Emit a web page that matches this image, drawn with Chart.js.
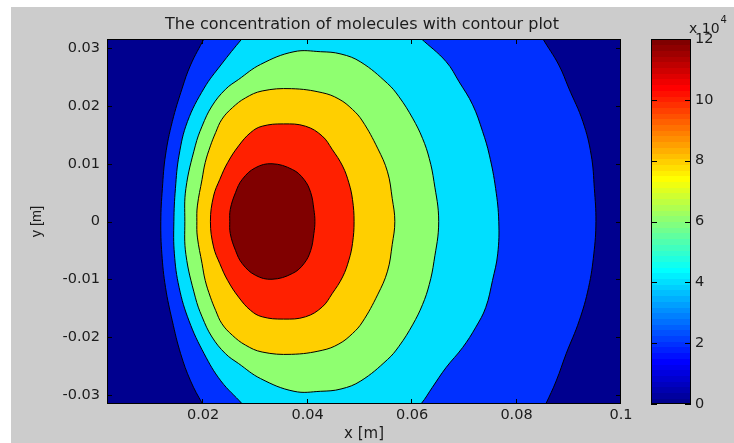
<!DOCTYPE html>
<html>
<head>
<meta charset="utf-8">
<style>
html,body{margin:0;padding:0;background:#fff;overflow:hidden}
#wrap{width:734px;height:443px;position:relative}
canvas{display:block}
</style>
<script src="https://cdn.jsdelivr.net/npm/chart.js@4.4.1/dist/chart.umd.min.js"></script>
</head>
<body>
<div id="wrap"><canvas id="c" width="734" height="443"></canvas></div>
<script>
// ---- data (concentration levels in units of 10^4) ----
const contourLevels = [2, 4, 6, 8, 10, 12];
const backgroundLevel = 0;
// closed contour lines (x [m], y [m])
const c2x = [0.0119,0.0122,0.0128,0.0141,0.0160,0.0176,0.0202,0.0216,0.0540,0.0835,0.0850,0.0881,0.0900,0.0927,0.0943,0.0949,0.0952,0.0948,0.0938,0.0920,0.0895,0.0876,0.0856,0.0841,0.0540,0.0218,0.0199,0.0176,0.0157,0.0141,0.0128,0.0121];
const c2y = [0,0.0057,0.0115,0.0173,0.0231,0.0271,0.0317,0.0342,0.0376,0.0342,0.0317,0.0271,0.0231,0.0173,0.0115,0.0057,0,-0.0056,-0.0114,-0.0172,-0.0229,-0.0276,-0.0316,-0.0343,-0.0378,-0.0343,-0.0316,-0.0276,-0.0229,-0.0172,-0.0114,-0.0056];
const c4x = [0.0144,0.0147,0.0154,0.0170,0.0202,0.0234,0.0275,0.0300,0.0444,0.0588,0.0617,0.0665,0.0690,0.0716,0.0735,0.0748,0.0760,0.0766,0.0764,0.0754,0.0741,0.0722,0.0697,0.0665,0.0639,0.0617,0.0588,0.0444,0.0300,0.0275,0.0234,0.0202,0.0173,0.0154,0.0145];
const c4y = [0,0.0057,0.0115,0.0173,0.0231,0.0271,0.0317,0.0342,0.0364,0.0342,0.0317,0.0277,0.0242,0.0202,0.0156,0.0115,0.0057,0,-0.0056,-0.0102,-0.0149,-0.0183,-0.0218,-0.0253,-0.0287,-0.0316,-0.0343,-0.0364,-0.0343,-0.0316,-0.0276,-0.0229,-0.0172,-0.0114,-0.0056];
const c6x = [0.0165,0.0167,0.0185,0.0198,0.0217,0.0243,0.0268,0.0310,0.0374,0.0425,0.0464,0.0502,0.0553,0.0575,0.0601,0.0620,0.0633,0.0642,0.0651,0.0642,0.0633,0.0620,0.0601,0.0575,0.0553,0.0502,0.0464,0.0425,0.0374,0.0310,0.0268,0.0243,0.0217,0.0198,0.0185,0.0167];
const c6y = [0,0.0057,0.0131,0.0165,0.0200,0.0229,0.0246,0.0272,0.0294,0.0294,0.0290,0.0276,0.0239,0.0216,0.0179,0.0144,0.0109,0.0069,0,-0.0069,-0.0109,-0.0144,-0.0179,-0.0216,-0.0239,-0.0276,-0.0290,-0.0294,-0.0294,-0.0272,-0.0246,-0.0229,-0.0200,-0.0165,-0.0131,-0.0057];
const c8x = [0.0188,0.0189,0.0198,0.0204,0.0214,0.0224,0.0236,0.0256,0.0281,0.0313,0.0369,0.0428,0.0460,0.0486,0.0505,0.0534,0.0553,0.0562,0.0567,0.0562,0.0553,0.0534,0.0505,0.0486,0.0460,0.0428,0.0369,0.0313,0.0281,0.0256,0.0236,0.0224,0.0214,0.0204,0.0198,0.0189];
const c8y = [0,0.0027,0.0073,0.0102,0.0131,0.0154,0.0177,0.0197,0.0214,0.0226,0.0230,0.0223,0.0212,0.0194,0.0174,0.0127,0.0086,0.0040,0,-0.0040,-0.0086,-0.0127,-0.0174,-0.0194,-0.0212,-0.0223,-0.0230,-0.0226,-0.0214,-0.0197,-0.0177,-0.0154,-0.0131,-0.0102,-0.0073,-0.0027];
const c10x = [0.0214,0.0220,0.0232,0.0247,0.0268,0.0291,0.0313,0.0354,0.0396,0.0428,0.0447,0.0467,0.0479,0.0486,0.0489,0.0486,0.0479,0.0467,0.0447,0.0428,0.0396,0.0354,0.0313,0.0291,0.0268,0.0247,0.0232,0.0220];
const c10y = [0,0.0044,0.0073,0.0102,0.0131,0.0154,0.0165,0.0169,0.0165,0.0148,0.0125,0.0096,0.0067,0.0038,0,-0.0038,-0.0067,-0.0096,-0.0125,-0.0148,-0.0165,-0.0169,-0.0165,-0.0154,-0.0131,-0.0102,-0.0073,-0.0044];
const c12x = [0.0251,0.0252,0.0262,0.0275,0.0300,0.0332,0.0371,0.0393,0.0406,0.0412,0.0414,0.0412,0.0406,0.0393,0.0371,0.0332,0.0300,0.0275,0.0262,0.0252];
const c12y = [0,0.0021,0.0050,0.0073,0.0093,0.0100,0.0090,0.0073,0.0050,0.0021,0,-0.0021,-0.0050,-0.0073,-0.0090,-0.0100,-0.0093,-0.0073,-0.0050,-0.0021];

const xRange = [0.0016, 0.1];
const yRange = [-0.0316, 0.0316];
const cRange = [0, 12];
const xTicks = [0.02, 0.04, 0.06, 0.08, 0.1];
const xTickLabels = ['0.02', '0.04', '0.06', '0.08', '0.1'];
const yTicks = [-0.03, -0.02, -0.01, 0, 0.01, 0.02, 0.03];
const yTickLabels = ['-0.03', '-0.02', '-0.01', '0', '0.01', '0.02', '0.03'];
const cbTicks = [0, 2, 4, 6, 8, 10, 12];
const cbTickLabels = ['0', '2', '4', '6', '8', '10', '12'];
const titleText = 'The concentration of molecules with contour plot';
const xTitle = 'x [m]';
const yTitle = 'y [m]';

// ---- MATLAB "jet" colormap (64 entries) ----
const MAPN = 64;
function jet(k) {
  const n = Math.ceil(MAPN / 4);
  const u = [];
  for (let i = 1; i <= n; i++) u.push(i / n);
  for (let i = 0; i < n - 1; i++) u.push(1);
  for (let i = n; i >= 1; i--) u.push(i / n);
  const off = Math.ceil(n / 2) - (MAPN % 4 === 1 ? 1 : 0);
  const g = j => (j >= 1 && j <= u.length) ? u[j - 1] : 0;
  const c = [g(k - off - n), g(k - off), g(k - off + n)].map(v => Math.round(v * 255));
  return 'rgb(' + c.join(',') + ')';
}
function levelColor(L) {
  const k = Math.min(MAPN, Math.floor((L - cRange[0]) / (cRange[1] - cRange[0]) * MAPN) + 1);
  return jet(k);
}

const contourX = [c2x, c4x, c6x, c8x, c10x, c12x];
const contourY = [c2y, c4y, c6y, c8y, c10y, c12y];

const datasets = contourLevels.map((L, i) => ({
  label: String(L),
  data: contourX[i].map((v, j) => ({x: v, y: contourY[i][j]})),
  showLine: true,
  fill: false,
  borderColor: '#000',
  borderWidth: 1,
  backgroundColor: levelColor(L),
  pointRadius: 0,
  pointHoverRadius: 0,
  tension: 0.4,
  order: contourLevels.length - i
}));

const TXT = '#1c1c1c';
const FONT = 'DejaVu Sans';

const pagePlugin = {
  id: 'page',
  afterDatasetUpdate(chart, args) {
    const line = args.meta.dataset;
    if (line) { line._loop = true; line._fullLoop = true; }
  },
  beforeDraw(chart) {
    const ctx = chart.ctx;
    ctx.save();
    ctx.fillStyle = '#ffffff';
    ctx.fillRect(0, 0, chart.width, chart.height);
    ctx.fillStyle = '#cccccc';
    ctx.fillRect(11, 7, chart.width - 11, chart.height - 7);
    ctx.restore();
  },
  beforeDatasetsDraw(chart) {
    const ctx = chart.ctx, a = chart.chartArea;
    ctx.save();
    ctx.fillStyle = levelColor(backgroundLevel);
    ctx.fillRect(a.left, a.top, a.right - a.left, a.bottom - a.top);
    ctx.restore();
  },
  beforeDatasetDraw(chart, args) {
    const line = args.meta.dataset;
    if (!line) return;
    const ctx = chart.ctx, a = chart.chartArea;
    ctx.save();
    ctx.beginPath();
    ctx.rect(a.left, a.top, a.right - a.left, a.bottom - a.top);
    ctx.clip();
    line.updateControlPoints(a, 'x');
    ctx.beginPath();
    line.path(ctx);
    ctx.closePath();
    ctx.fillStyle = chart.data.datasets[args.index].backgroundColor;
    ctx.fill();
    ctx.restore();
  },
  afterDatasetsDraw(chart) {
    const ctx = chart.ctx, a = chart.chartArea, s = chart.scales;
    ctx.save();
    ctx.strokeStyle = '#000';
    ctx.lineWidth = 1;
    ctx.strokeRect(a.left + 0.5, a.top + 0.5, a.right - a.left - 1, a.bottom - a.top - 1);
    ctx.beginPath();
    xTicks.forEach(v => {
      const px = Math.round(s.x.getPixelForValue(v)) - 0.5;
      ctx.moveTo(px, a.bottom); ctx.lineTo(px, a.bottom - 5);
      ctx.moveTo(px, a.top); ctx.lineTo(px, a.top + 5);
    });
    yTicks.forEach(v => {
      const py = Math.round(s.y.getPixelForValue(v)) + 0.5;
      ctx.moveTo(a.left, py); ctx.lineTo(a.left + 5, py);
      ctx.moveTo(a.right, py); ctx.lineTo(a.right - 5, py);
    });
    ctx.stroke();
    const cb = s.cb;
    const L = a.right + 30, R = a.right + 70;
    for (let k = 1; k <= MAPN; k++) {
      const v0 = cRange[0] + (k - 1) * (cRange[1] - cRange[0]) / MAPN;
      const v1 = cRange[0] + k * (cRange[1] - cRange[0]) / MAPN;
      const y0 = cb.getPixelForValue(v0), y1 = cb.getPixelForValue(v1);
      ctx.fillStyle = jet(k);
      ctx.fillRect(L, Math.floor(y1), R - L, Math.ceil(y0) - Math.floor(y1));
    }
    ctx.strokeRect(L + 0.5, a.top + 0.5, R - L - 1, a.bottom - a.top - 1);
    ctx.beginPath();
    cbTicks.forEach(v => {
      const py = Math.round(cb.getPixelForValue(v)) + 0.5;
      ctx.moveTo(L, py); ctx.lineTo(L + 6, py);
      ctx.moveTo(R, py); ctx.lineTo(R - 6, py);
    });
    ctx.stroke();
    ctx.restore();
  },
  afterDraw(chart) {
    const ctx = chart.ctx, a = chart.chartArea;
    ctx.save();
    ctx.fillStyle = TXT;
    ctx.textBaseline = 'alphabetic';
    ctx.textAlign = 'center';
    ctx.font = '16px "' + FONT + '"';
    ctx.fillText(titleText, (a.left + a.right) / 2 - 2, 28.5);
    ctx.textAlign = 'left';
    ctx.font = '14px "' + FONT + '"';
    const base = 'x 10';
    const bx = a.right + 68;
    ctx.fillText(base, bx, 33);
    const w = ctx.measureText(base).width;
    ctx.font = '10px "' + FONT + '"';
    ctx.fillText('4', bx + w + 1, 23);
    ctx.restore();
  }
};

Chart.defaults.font.family = FONT;

new Chart(document.getElementById('c'), {
  type: 'scatter',
  data: {datasets},
  options: {
    responsive: false,
    animation: false,
    devicePixelRatio: 1,
    layout: {padding: {top: 39, left: 0, right: 0, bottom: 0}},
    plugins: {legend: {display: false}, tooltip: {enabled: false}, title: {display: false}},
    elements: {line: {capBezierPoints: false}},
    scales: {
      x: {
        type: 'linear', position: 'bottom', min: xRange[0], max: xRange[1],
        grid: {display: false, drawTicks: false}, border: {display: false},
        afterBuildTicks: sc => { sc.ticks = xTicks.map(v => ({value: v})); },
        afterFit: sc => { sc.height = 39; },
        ticks: {padding: 3, color: TXT, font: {size: 14.5}, maxRotation: 0, autoSkip: false,
          callback: (v, i) => xTickLabels[i]},
        title: {display: true, text: xTitle, color: TXT, font: {size: 15}, padding: {top: 0, bottom: 0}}
      },
      y: {
        type: 'linear', position: 'left', min: yRange[0], max: yRange[1],
        grid: {display: false, drawTicks: false}, border: {display: false},
        afterBuildTicks: sc => { sc.ticks = yTicks.map(v => ({value: v})); },
        afterFit: sc => { sc.width = 107; },
        ticks: {padding: 7, color: TXT, font: {size: 14.5}, autoSkip: false,
          callback: (v, i) => yTickLabels[i]},
        title: {display: true, text: yTitle, color: TXT, font: {size: 14.5, family: 'Liberation Sans'}, padding: {top: 28, bottom: 0}}
      },
      cb: {
        type: 'linear', position: 'right', min: cRange[0], max: cRange[1],
        grid: {display: false, drawTicks: true, tickLength: 70}, border: {display: false},
        afterBuildTicks: sc => { sc.ticks = cbTicks.map(v => ({value: v})); },
        afterFit: sc => { sc.width = 113; },
        ticks: {padding: 4, color: TXT, font: {size: 14.5}, autoSkip: false,
          callback: (v, i) => cbTickLabels[i]}
      }
    }
  },
  plugins: [pagePlugin]
});
</script>
</body>
</html>
